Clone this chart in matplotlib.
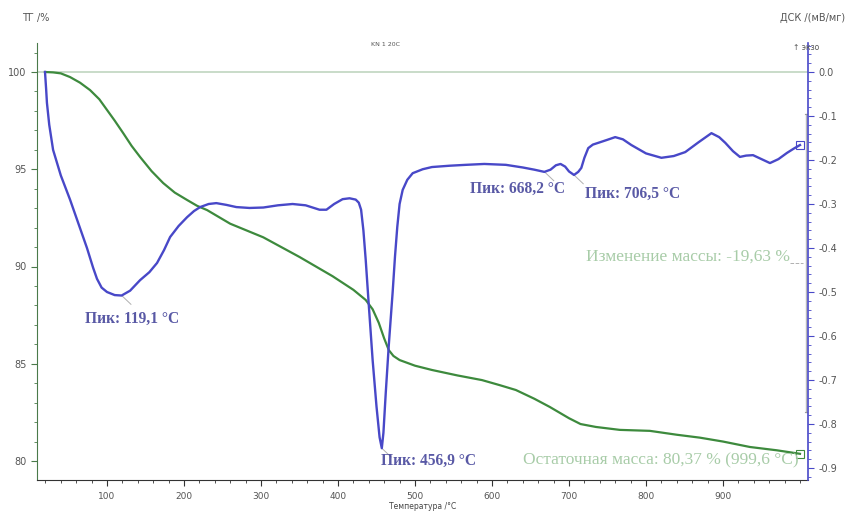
import matplotlib
matplotlib.use("Agg")
import matplotlib.pyplot as plt
from matplotlib.ticker import MultipleLocator, FixedLocator, FuncFormatter

# ---------------- data ----------------
dsc_temp = [19.5, 21, 22, 25, 30, 40, 52, 63, 74, 82, 87, 93, 100, 110, 119, 130, 143, 155, 165,
            174, 182, 193, 204, 213, 221, 232, 242, 255, 268, 285, 303, 322, 341, 358, 376, 385,
            395, 406, 415, 423, 427, 430, 433, 436, 440, 445, 450, 454, 456.9, 459, 462, 466, 471,
            474, 477, 480, 484, 490, 497, 510, 522, 545, 566, 590, 618, 640, 655, 668, 676, 683,
            689, 695, 700, 706.5, 712, 716, 720, 725, 731, 738, 750, 760, 770, 781, 800, 820, 836,
            851, 868, 885, 895, 903, 913, 922, 930, 939, 950, 961, 972, 983, 992, 1000]
dsc_val = [0.0, -0.04, -0.07, -0.12, -0.177, -0.235, -0.29, -0.345, -0.40, -0.445, -0.47, -0.49,
           -0.50, -0.507, -0.508, -0.497, -0.473, -0.455, -0.434, -0.405, -0.375, -0.35, -0.33,
           -0.316, -0.307, -0.30, -0.298, -0.302, -0.307, -0.309, -0.308, -0.303, -0.300, -0.303,
           -0.313, -0.313, -0.300, -0.289, -0.287, -0.290, -0.297, -0.313, -0.36, -0.427, -0.53,
           -0.655, -0.76, -0.83, -0.855, -0.82, -0.73, -0.62, -0.50, -0.42, -0.352, -0.30, -0.268,
           -0.245, -0.23, -0.221, -0.216, -0.213, -0.211, -0.209, -0.211, -0.217, -0.222, -0.227,
           -0.222, -0.212, -0.209, -0.215, -0.226, -0.234, -0.227, -0.218, -0.195, -0.173, -0.165,
           -0.161, -0.154, -0.148, -0.153, -0.166, -0.185, -0.195, -0.191, -0.182, -0.16, -0.139,
           -0.148, -0.161, -0.18, -0.193, -0.19, -0.189, -0.198, -0.207, -0.198, -0.184, -0.174,
           -0.166]

tg_temp = [19.5, 30, 40, 52, 65, 78, 90, 100, 110, 121, 132, 143, 158, 173, 188, 204, 217, 230,
           260, 303, 350, 393, 420, 436, 445, 453, 460, 466, 472, 480, 500, 522, 555, 587, 610,
           631, 655, 675, 700, 715, 735, 766, 805, 840, 870, 900, 935, 970, 1000]
tg_val = [100.0, 99.98, 99.93, 99.74, 99.45, 99.07, 98.6, 98.05, 97.5, 96.86, 96.2, 95.63, 94.9,
          94.29, 93.8, 93.42, 93.12, 92.9, 92.2, 91.5, 90.49, 89.5, 88.8, 88.28, 87.8, 87.1, 86.3,
          85.7, 85.4, 85.19, 84.9, 84.68, 84.4, 84.16, 83.9, 83.65, 83.2, 82.78, 82.2, 81.9, 81.75,
          81.6, 81.55, 81.35, 81.2, 81.0, 80.72, 80.55, 80.37]

x_ticks = [100, 200, 300, 400, 500, 600, 700, 800, 900]
tg_ticks = [80, 85, 90, 95, 100]
dsc_ticks = [0.0, -0.1, -0.2, -0.3, -0.4, -0.5, -0.6, -0.7, -0.8, -0.9]

peaks = [("Пик: 119,1 °C", 119.1, -0.508), ("Пик: 456,9 °C", 456.9, -0.855),
         ("Пик: 668,2 °C", 668.2, -0.227), ("Пик: 706,5 °C", 706.5, -0.234)]
mass_change_text = "Изменение массы: -19,63 %"
residual_text = "Остаточная масса: 80,37 % (999,6 °C)"

# ---------------- styles ----------------
BLUE = "#4848c8"
GREEN = "#3d8a3d"
LIGHTGREEN = "#a8cca8"
TXTBLUE = "#3c3c96"
TICKC = "#555555"


def px2t(px):
    return (px - 30) / 0.77


def py2dsc(py):
    return -(py - 72) / 440.0


def py2tg(py):
    return 100 - (py - 72) / 19.45


fig = plt.figure(figsize=(8.47, 5.17), dpi=100)
ax = fig.add_axes([37 / 847, 37 / 517, (808 - 37) / 847, (480 - 43) / 517])
ax2 = ax.twinx()

ax.set_xlim(9.1, 1010.4)
ax.set_ylim(py2tg(480), py2tg(43))
ax2.set_ylim(py2dsc(480), py2dsc(43))

# 100 % reference line
ax.axhline(100, color="#c9dcc9", lw=1.4, zorder=1)

ax.plot(tg_temp, tg_val, color=GREEN, lw=1.6, zorder=3)
ax2.plot(dsc_temp, dsc_val, color=BLUE, lw=1.7, zorder=3)

# end markers
ax.plot([tg_temp[-1]], [tg_val[-1]], marker="s", ms=6, mfc="none", mec=GREEN, mew=0.8)
ax2.plot([dsc_temp[-1]], [dsc_val[-1]], marker="s", ms=6, mfc="none", mec=BLUE, mew=0.8)

# mass change marker line
xm = px2t(806)
ax.plot([xm, xm], [py2tg(114), py2tg(412)], color="#b8b8b8", lw=1.0)
ax.plot([xm - 1.5, xm + 1.5], [py2tg(114)] * 2, color="#999999", lw=0.8)
ax.plot([xm - 1.5, xm + 1.5], [py2tg(412)] * 2, color="#999999", lw=0.8)

# spines
ax.spines["top"].set_visible(False)
ax2.spines["top"].set_visible(False)
ax.spines["left"].set_color("#4a7a4a")
ax.spines["bottom"].set_color("#333333")
ax2.spines["right"].set_color(BLUE)
ax2.spines["right"].set_linewidth(1.2)
ax2.spines["left"].set_visible(False)
ax2.spines["bottom"].set_visible(False)
ax.spines["right"].set_visible(False)

ax.xaxis.set_major_locator(FixedLocator(x_ticks))
ax.xaxis.set_minor_locator(MultipleLocator(20))
ax.yaxis.set_major_locator(FixedLocator(tg_ticks))
ax.yaxis.set_minor_locator(MultipleLocator(1))
ax2.yaxis.set_major_locator(FixedLocator(dsc_ticks))
ax2.yaxis.set_minor_locator(MultipleLocator(0.02))
ax2.yaxis.set_major_formatter(FuncFormatter(lambda v, p: f"{v:.1f}"))

ax.tick_params(axis="x", which="major", length=4, color="#333333", labelsize=6.5,
               labelcolor=TICKC, pad=4.5)
ax.tick_params(axis="x", which="minor", length=2, color="#333333")
ax.tick_params(axis="y", which="major", length=4, color="#4a7a4a", labelsize=7, labelcolor=TICKC)
ax.tick_params(axis="y", which="minor", length=2, color="#4a7a4a")
ax2.tick_params(axis="y", which="major", length=4, color=BLUE, labelsize=7, labelcolor=TICKC)
ax2.tick_params(axis="y", which="minor", length=2, color=BLUE)

ax.set_xlabel("Температура /°C", fontsize=5.5, color="#444444", labelpad=1)

# header texts
fig.text(22 / 847, 1 - 18 / 517, "ТГ /%", fontsize=7, color="#555555", va="center", ha="left")
fig.text(845 / 847, 1 - 18 / 517, "ДСК /(мВ/мг)", fontsize=7, color="#555555", va="center", ha="right")
fig.text(385 / 847, 1 - 45 / 517, "KN 1 20C", fontsize=4.5, color="#555555", va="center", ha="center")
fig.text(806 / 847, 1 - 47 / 517, "↑ экзо", fontsize=5.5, color="#555555", va="center", ha="center")

# peak annotations
serif = "Liberation Serif"
label_pos = [(85, 319), (381, 461), (470, 189), (585, 194)]
for (txt, t, v), (px, py) in zip(peaks, label_pos):
    ax2.text(px2t(px), py2dsc(py), txt, fontsize=11.2, family=serif, color=TXTBLUE,
             fontweight="bold", va="center", ha="left", alpha=0.85)
    ax2.plot([t, t + 12], [v, v - 0.02], color="#b0b0b0", lw=0.7)

ax2.text(px2t(790), py2dsc(257), mass_change_text, fontsize=12.5, family=serif,
         color=LIGHTGREEN, va="center", ha="right")
ax2.plot([px2t(790), px2t(803)], [py2dsc(263)] * 2, color="#b0b0b0", lw=0.7, ls="--")
ax2.text(px2t(799), py2dsc(460), residual_text, fontsize=12.5, family=serif,
         color=LIGHTGREEN, va="center", ha="right")

fig.savefig("out.png", dpi=100)
